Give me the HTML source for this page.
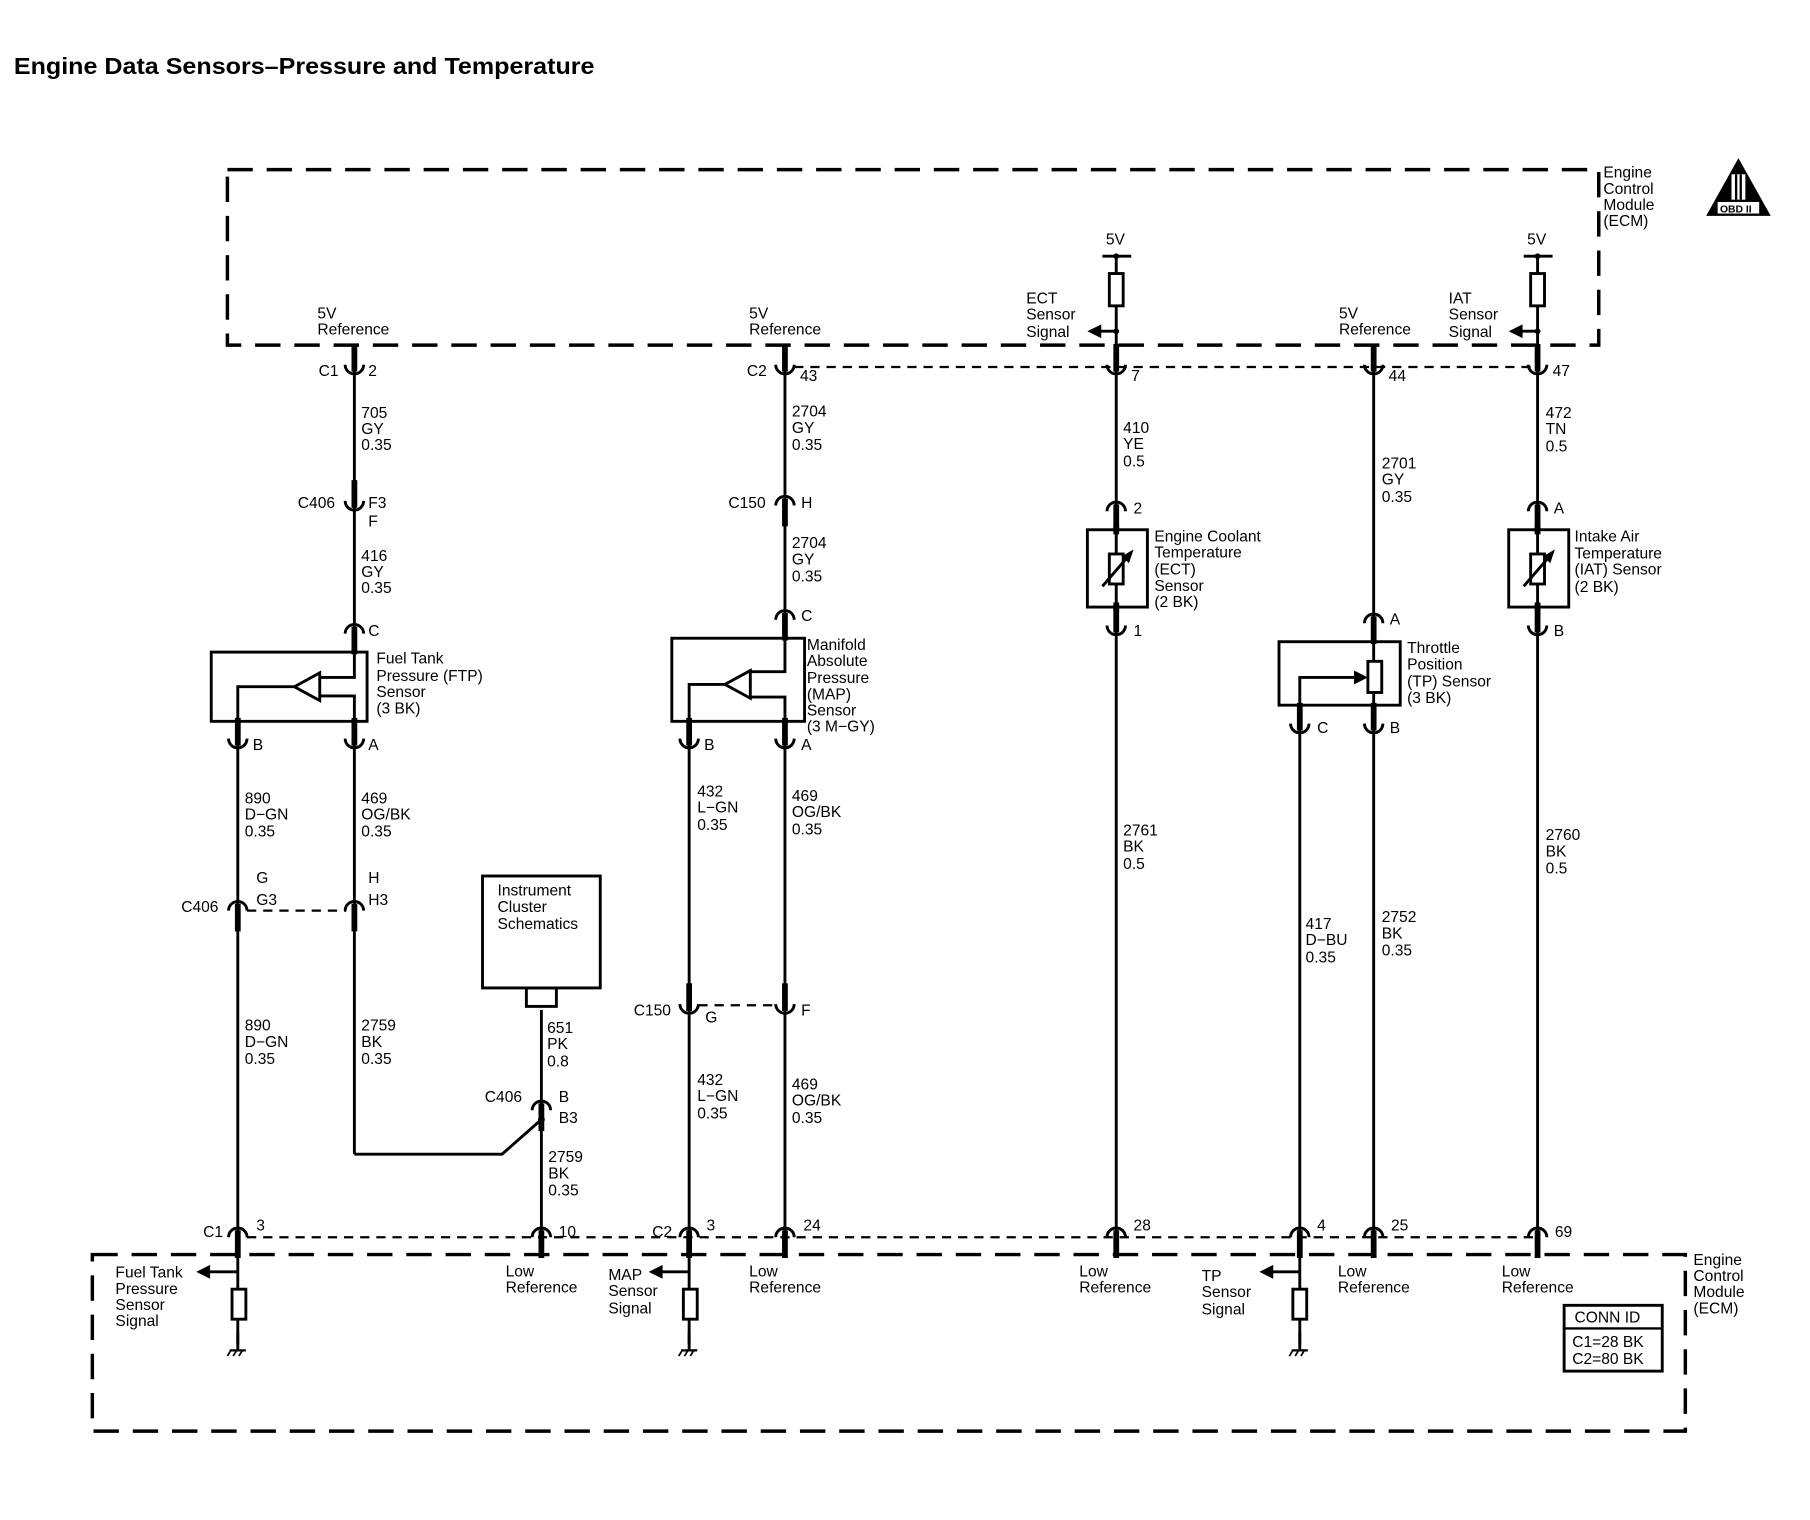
<!DOCTYPE html>
<html><head><meta charset="utf-8"><style>
html,body{margin:0;padding:0;background:#fff;}
svg{display:block;}
text{font-family:"Liberation Sans",sans-serif;font-size:13.5px;fill:#000;}
</style></head><body>
<svg width="1810" height="1520" viewBox="0 0 1568 1317" preserveAspectRatio="none" xmlns="http://www.w3.org/2000/svg">
<defs>
<g id="cu"><path d="M-8,0 A8,8 0 0 0 8,0" fill="none" stroke="#000" stroke-width="2.5"/><line x1="0" y1="-18" x2="0" y2="6" stroke="#000" stroke-width="5"/></g>
<g id="cn"><path d="M-8,0 A8,8 0 0 1 8,0" fill="none" stroke="#000" stroke-width="2.5"/><line x1="0" y1="-6" x2="0" y2="18" stroke="#000" stroke-width="5"/></g>
<g id="gnd"><line x1="0" y1="-6" x2="0" y2="10" stroke="#000" stroke-width="2.5"/><line x1="-7" y1="10" x2="7" y2="10" stroke="#000" stroke-width="2"/><line x1="-6" y1="10" x2="-9" y2="15" stroke="#000" stroke-width="1.5"/><line x1="-1" y1="10" x2="-4" y2="15" stroke="#000" stroke-width="1.5"/><line x1="4" y1="10" x2="1" y2="15" stroke="#000" stroke-width="1.5"/></g>
</defs>
<text x="12" y="64" textLength="503" lengthAdjust="spacingAndGlyphs" style="font-size:20px;font-weight:bold">Engine Data Sensors–Pressure and Temperature</text>

<!-- ECM boxes -->
<g fill="none" stroke="#000" stroke-width="3" stroke-dasharray="22,12">
<path d="M197,147 H1385 V299 H197 Z"/>
<path d="M80,1087 H1460 V1240 H80 Z"/>
</g>
<g stroke="#000" stroke-width="2" stroke-dasharray="8,6" fill="none">
<line x1="688" y1="318" x2="1332" y2="318"/>
<line x1="214" y1="1072" x2="1332" y2="1072"/>
<line x1="214" y1="789" x2="300" y2="789"/>
<line x1="605" y1="871" x2="674" y2="871"/>
</g>
<text x="1389" y="154">Engine</text><text x="1389" y="168">Control</text><text x="1389" y="182">Module</text><text x="1389" y="196">(ECM)</text>
<text x="1467" y="1096">Engine</text><text x="1467" y="1110">Control</text><text x="1467" y="1124">Module</text><text x="1467" y="1138">(ECM)</text>

<!-- OBD II -->
<polygon points="1506,137 1478,187 1534,187" fill="#000"/>
<rect x="1500" y="151" width="12" height="22" fill="#fff"/><rect x="1503" y="151" width="2" height="22" fill="#000"/><rect x="1507" y="151" width="2" height="22" fill="#000"/>
<rect x="1488" y="175" width="36" height="10" fill="#fff"/>
<text x="1490" y="184" style="font-size:9px;font-weight:bold">OBD II</text>

<!-- wires -->
<g stroke="#000" stroke-width="2.5" fill="none">
<line x1="307" y1="316" x2="307" y2="545"/>
<line x1="307" y1="643" x2="307" y2="1000"/>
<polyline points="307,1000 435,1000 469,970"/>
<line x1="206" y1="643" x2="206" y2="1072"/>
<line x1="469" y1="875" x2="469" y2="1072"/>
<line x1="597" y1="643" x2="597" y2="1072"/>
<line x1="680" y1="316" x2="680" y2="533"/>
<line x1="680" y1="643" x2="680" y2="1072"/>
<line x1="967" y1="222" x2="967" y2="316"/>
<line x1="967" y1="316" x2="967" y2="440"/>
<line x1="967" y1="545" x2="967" y2="1072"/>
<line x1="1190" y1="316" x2="1190" y2="536"/>
<line x1="1190" y1="629" x2="1190" y2="1072"/>
<line x1="1126" y1="629" x2="1126" y2="1072"/>
<line x1="1332" y1="222" x2="1332" y2="440"/>
<line x1="1332" y1="545" x2="1332" y2="1072"/>
<line x1="955" y1="222" x2="980" y2="222"/><line x1="1320" y1="222" x2="1345" y2="222"/>
<line x1="206" y1="1087" x2="206" y2="1165"/>
<line x1="597" y1="1087" x2="597" y2="1165"/>
<line x1="1126" y1="1087" x2="1126" y2="1165"/>
<line x1="206" y1="1102" x2="180" y2="1102"/>
<line x1="597" y1="1102" x2="572" y2="1102"/>
<line x1="1126" y1="1102" x2="1101" y2="1102"/>
<line x1="967" y1="287" x2="952" y2="287"/>
<line x1="1332" y1="287" x2="1317" y2="287"/>
</g>
<g fill="#000">
<polygon points="170,1102 182,1096 182,1108"/><polygon points="562,1102 574,1096 574,1108"/><polygon points="1091,1102 1103,1096 1103,1108"/>
<polygon points="942,287 954,281 954,293"/><polygon points="1307,287 1319,281 1319,293"/>
<circle cx="967" cy="222" r="2.5"/><circle cx="1332" cy="222" r="2.5"/><circle cx="967" cy="287" r="2.5"/><circle cx="1332" cy="287" r="2.5"/>
<circle cx="469" cy="970" r="3"/>
</g>
<g fill="#fff" stroke="#000" stroke-width="2.5">
<rect x="961" y="237" width="12" height="28"/><rect x="1326" y="237" width="12" height="28"/>
<rect x="201" y="1117" width="12" height="26"/><rect x="592" y="1117" width="12" height="26"/><rect x="1120" y="1117" width="12" height="26"/>
</g>
<use href="#gnd" x="206" y="1160"/><use href="#gnd" x="597" y="1160"/><use href="#gnd" x="1126" y="1160"/>

<use href="#cu" x="307" y="316"/><use href="#cu" x="680" y="316"/><use href="#cu" x="967" y="316"/><use href="#cu" x="1190" y="316"/><use href="#cu" x="1332" y="316"/>
<use href="#cn" x="206" y="1072"/><use href="#cn" x="469" y="1072"/><use href="#cn" x="597" y="1072"/><use href="#cn" x="680" y="1072"/><use href="#cn" x="967" y="1072"/><use href="#cn" x="1126" y="1072"/><use href="#cn" x="1190" y="1072"/><use href="#cn" x="1332" y="1072"/>
<use href="#cu" x="307" y="434"/><use href="#cn" x="680" y="438"/>
<use href="#cn" x="307" y="549"/><use href="#cn" x="680" y="537"/>
<use href="#cu" x="206" y="640"/><use href="#cu" x="307" y="640"/><use href="#cu" x="597" y="640"/><use href="#cu" x="680" y="640"/>
<use href="#cn" x="206" y="789"/><use href="#cn" x="307" y="789"/>
<use href="#cu" x="597" y="870"/><use href="#cu" x="680" y="870"/>
<use href="#cn" x="967" y="443"/><use href="#cu" x="967" y="542"/>
<use href="#cn" x="1190" y="540"/><use href="#cu" x="1126" y="627"/><use href="#cu" x="1190" y="627"/>
<use href="#cn" x="1332" y="443"/><use href="#cu" x="1332" y="542"/>
<use href="#cn" x="469" y="962"/>

<g stroke="#000" stroke-width="2.5" fill="none">
<rect x="183" y="565" width="135" height="60"/>
<polyline points="307,565 307,587 277,587"/>
<polyline points="277,603 307,603 307,625"/>
<polyline points="255,595 206,595 206,625"/>
<polygon points="255,595 277,583 277,607"/>
<rect x="582" y="553" width="115" height="72"/>
<polyline points="680,553 680,582 650,582"/>
<polyline points="650,604 680,604 680,625"/>
<polyline points="628,593 597,593 597,625"/>
<polygon points="628,593 650,581 650,605"/>
<rect x="942" y="459" width="52" height="67"/>
<line x1="967" y1="459" x2="967" y2="526"/>
<rect x="961" y="480" width="12" height="26" fill="#fff"/>
<line x1="955" y1="508" x2="980" y2="479"/>
<rect x="1307" y="459" width="52" height="67"/>
<line x1="1332" y1="459" x2="1332" y2="526"/>
<rect x="1326" y="480" width="12" height="26" fill="#fff"/>
<line x1="1320" y1="508" x2="1345" y2="479"/>
<rect x="1108" y="556" width="105" height="55"/>
<line x1="1190" y1="556" x2="1190" y2="611"/>
<rect x="1185" y="573" width="12" height="27" fill="#fff"/>
<polyline points="1126,611 1126,587 1174,587"/>
<rect x="418" y="759" width="102" height="97"/>
<rect x="456" y="856" width="26" height="16"/>
</g>
<g stroke="#000" stroke-width="5"><line x1="967" y1="455" x2="967" y2="463"/><line x1="967" y1="522" x2="967" y2="530"/><line x1="1332" y1="455" x2="1332" y2="463"/><line x1="1332" y1="522" x2="1332" y2="530"/></g>
<g fill="#000">
<polygon points="982,476 972,482 978,488"/><polygon points="1347,476 1337,482 1343,488"/>
<polygon points="1185,587 1173,581 1173,593"/>
</g>

<text x="275" y="276">5V</text><text x="275" y="290">Reference</text>
<text x="649" y="276">5V</text><text x="649" y="290">Reference</text>
<text x="1160" y="276">5V</text><text x="1160" y="290">Reference</text>
<text x="958" y="212">5V</text><text x="1323" y="212">5V</text>
<text x="889" y="263">ECT</text><text x="889" y="277">Sensor</text><text x="889" y="292">Signal</text>
<text x="1255" y="263">IAT</text><text x="1255" y="277">Sensor</text><text x="1255" y="292">Signal</text>
<text x="276" y="326">C1</text><text x="319" y="326">2</text>
<text x="647" y="326">C2</text><text x="693" y="330">43</text>
<text x="980" y="330">7</text><text x="1203" y="330">44</text><text x="1345" y="326">47</text>
<text x="313" y="362">705</text><text x="313" y="376">GY</text><text x="313" y="390">0.35</text>
<text x="258" y="440">C406</text><text x="319" y="440">F3</text><text x="319" y="456">F</text>
<text x="313" y="486">416</text><text x="313" y="500">GY</text><text x="313" y="514">0.35</text>
<text x="319" y="551">C</text>
<text x="326" y="575">Fuel Tank</text><text x="326" y="590">Pressure (FTP)</text><text x="326" y="604">Sensor</text><text x="326" y="618">(3 BK)</text>
<text x="219" y="650">B</text><text x="319" y="650">A</text>
<text x="212" y="696">890</text><text x="212" y="710">D−GN</text><text x="212" y="725">0.35</text>
<text x="313" y="696">469</text><text x="313" y="710">OG/BK</text><text x="313" y="725">0.35</text>
<text x="222" y="765">G</text><text x="222" y="784">G3</text><text x="319" y="765">H</text><text x="319" y="784">H3</text>
<text x="157" y="790">C406</text>
<text x="212" y="893">890</text><text x="212" y="907">D−GN</text><text x="212" y="922">0.35</text>
<text x="313" y="893">2759</text><text x="313" y="907">BK</text><text x="313" y="922">0.35</text>
<text x="431" y="776">Instrument</text><text x="431" y="790">Cluster</text><text x="431" y="805">Schematics</text>
<text x="474" y="895">651</text><text x="474" y="909">PK</text><text x="474" y="924">0.8</text>
<text x="420" y="955">C406</text><text x="484" y="955">B</text><text x="484" y="973">B3</text>
<text x="475" y="1007">2759</text><text x="475" y="1021">BK</text><text x="475" y="1036">0.35</text>
<text x="686" y="361">2704</text><text x="686" y="375">GY</text><text x="686" y="390">0.35</text>
<text x="631" y="440">C150</text><text x="694" y="440">H</text>
<text x="686" y="475">2704</text><text x="686" y="489">GY</text><text x="686" y="504">0.35</text>
<text x="694" y="538">C</text>
<text x="699" y="563">Manifold</text><text x="699" y="577">Absolute</text><text x="699" y="592">Pressure</text><text x="699" y="606">(MAP)</text><text x="699" y="620">Sensor</text><text x="699" y="634">(3 M−GY)</text>
<text x="610" y="650">B</text><text x="694" y="650">A</text>
<text x="604" y="690">432</text><text x="604" y="704">L−GN</text><text x="604" y="719">0.35</text>
<text x="686" y="694">469</text><text x="686" y="708">OG/BK</text><text x="686" y="723">0.35</text>
<text x="549" y="880">C150</text><text x="611" y="886">G</text><text x="694" y="880">F</text>
<text x="604" y="940">432</text><text x="604" y="954">L−GN</text><text x="604" y="969">0.35</text>
<text x="686" y="944">469</text><text x="686" y="958">OG/BK</text><text x="686" y="973">0.35</text>
<text x="973" y="375">410</text><text x="973" y="389">YE</text><text x="973" y="404">0.5</text>
<text x="982" y="445">2</text>
<text x="1000" y="469">Engine Coolant</text><text x="1000" y="483">Temperature</text><text x="1000" y="498">(ECT)</text><text x="1000" y="512">Sensor</text><text x="1000" y="526">(2 BK)</text>
<text x="982" y="551">1</text>
<text x="973" y="724">2761</text><text x="973" y="738">BK</text><text x="973" y="753">0.5</text>
<text x="1197" y="406">2701</text><text x="1197" y="420">GY</text><text x="1197" y="435">0.35</text>
<text x="1204" y="541">A</text>
<text x="1219" y="566">Throttle</text><text x="1219" y="580">Position</text><text x="1219" y="595">(TP) Sensor</text><text x="1219" y="609">(3 BK)</text>
<text x="1141" y="635">C</text><text x="1204" y="635">B</text>
<text x="1131" y="805">417</text><text x="1131" y="819">D−BU</text><text x="1131" y="834">0.35</text>
<text x="1197" y="799">2752</text><text x="1197" y="813">BK</text><text x="1197" y="828">0.35</text>
<text x="1339" y="362">472</text><text x="1339" y="376">TN</text><text x="1339" y="391">0.5</text>
<text x="1346" y="445">A</text>
<text x="1364" y="469">Intake Air</text><text x="1364" y="484">Temperature</text><text x="1364" y="498">(IAT) Sensor</text><text x="1364" y="513">(2 BK)</text>
<text x="1346" y="551">B</text>
<text x="1339" y="728">2760</text><text x="1339" y="742">BK</text><text x="1339" y="757">0.5</text>
<text x="176" y="1072">C1</text><text x="222" y="1066">3</text>
<text x="484" y="1072">10</text>
<text x="565" y="1072">C2</text><text x="612" y="1066">3</text>
<text x="696" y="1066">24</text><text x="982" y="1066">28</text><text x="1141" y="1066">4</text><text x="1205" y="1066">25</text><text x="1347" y="1072">69</text>
<text x="100" y="1107">Fuel Tank</text><text x="100" y="1121">Pressure</text><text x="100" y="1135">Sensor</text><text x="100" y="1149">Signal</text>
<text x="438" y="1106">Low</text><text x="438" y="1120">Reference</text>
<text x="527" y="1109">MAP</text><text x="527" y="1123">Sensor</text><text x="527" y="1138">Signal</text>
<text x="649" y="1106">Low</text><text x="649" y="1120">Reference</text>
<text x="935" y="1106">Low</text><text x="935" y="1120">Reference</text>
<text x="1041" y="1110">TP</text><text x="1041" y="1124">Sensor</text><text x="1041" y="1139">Signal</text>
<text x="1159" y="1106">Low</text><text x="1159" y="1120">Reference</text>
<text x="1301" y="1106">Low</text><text x="1301" y="1120">Reference</text>
<rect x="1355" y="1131" width="85" height="57" fill="none" stroke="#000" stroke-width="2.5"/>
<line x1="1355" y1="1151" x2="1440" y2="1151" stroke="#000" stroke-width="2"/>
<text x="1364" y="1146">CONN ID</text>
<text x="1362" y="1167">C1=28 BK</text><text x="1362" y="1182">C2=80 BK</text>
</svg>
</body></html>
